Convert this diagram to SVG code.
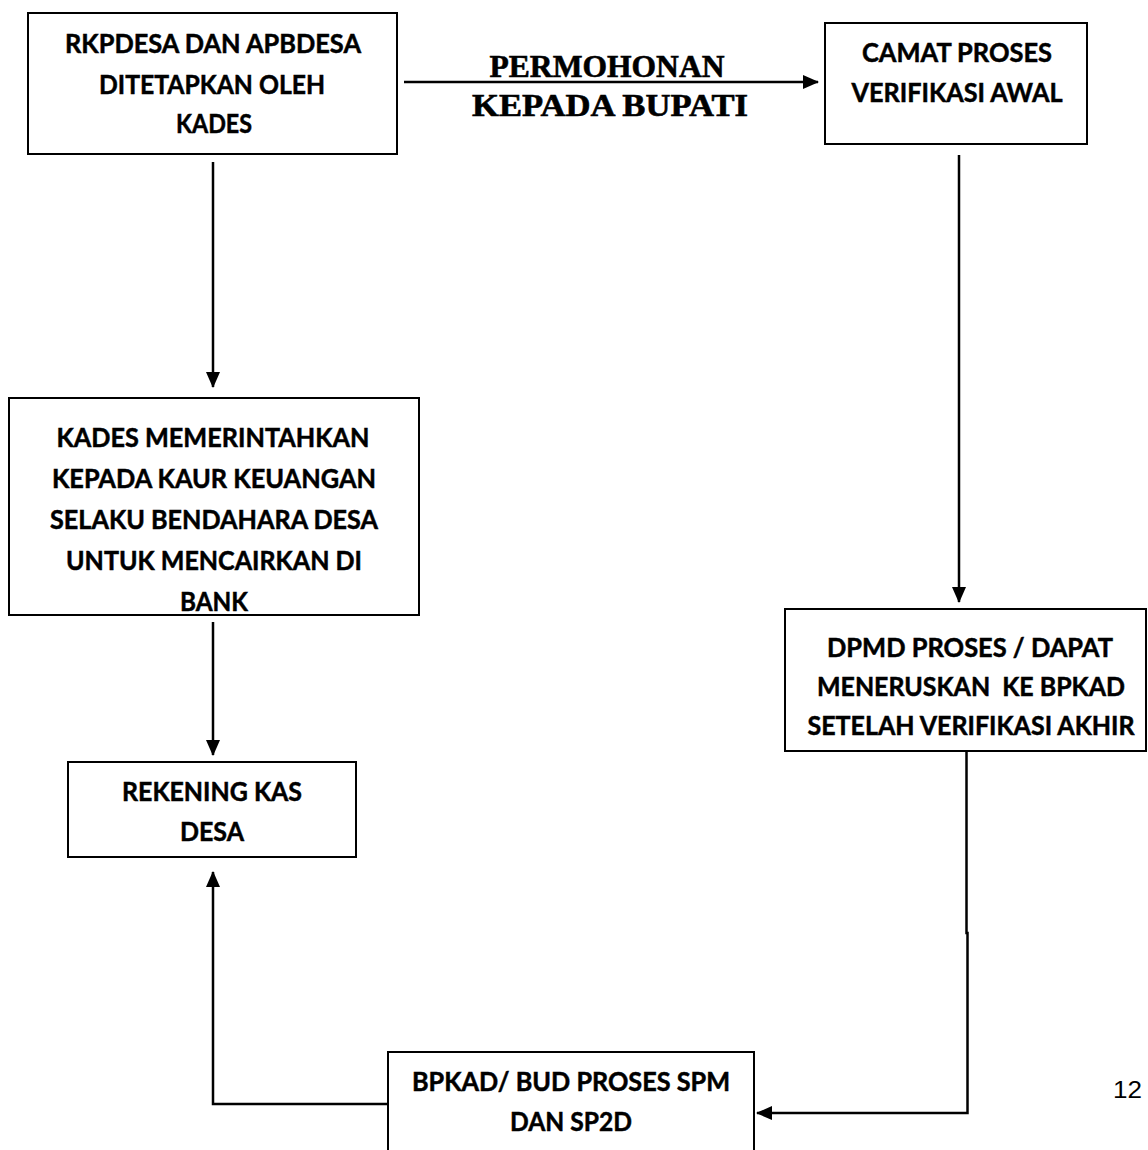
<svg xmlns="http://www.w3.org/2000/svg" width="1148" height="1150" viewBox="0 0 1148 1150">
  <style>
    .box { fill: #ffffff; stroke: #000000; stroke-width: 2; }
    .lbl { font-family: Lato, "Liberation Sans", Arial, sans-serif; font-weight: bold; font-size: 27px; fill: #000000; stroke: #000000; stroke-width: 0.5; text-anchor: middle; }
    .edge { fill: none; stroke: #000000; stroke-width: 2.5; }
    .elbl { font-family: "Liberation Serif", "Times New Roman", serif; font-weight: bold; font-size: 32px; fill: #000000; stroke: #000000; stroke-width: 0.6; text-anchor: middle; }
    .pg { font-family: "Liberation Sans", Arial, sans-serif; font-size: 24px; fill: #000000; }
  </style>
  <defs>
    <marker id="arrow" viewBox="0 0 16 16" refX="15" refY="8" markerWidth="16" markerHeight="16" markerUnits="userSpaceOnUse" orient="auto">
      <path d="M0,1 L16,8 L0,15 Z" fill="#000000"/>
    </marker>
  </defs>
  <rect width="1148" height="1150" fill="#ffffff"/>

  <g id="connectors">
    <line class="edge" x1="404" y1="82" x2="818" y2="82" marker-end="url(#arrow)"/>
    <line class="edge" x1="213" y1="162" x2="213" y2="387" marker-end="url(#arrow)"/>
    <line class="edge" x1="213" y1="622" x2="213" y2="755" marker-end="url(#arrow)"/>
    <line class="edge" x1="959" y1="155" x2="959" y2="602" marker-end="url(#arrow)"/>
    <polyline class="edge" points="966.5,751 966.5,933 967.5,933 967.5,1113 757,1113" marker-end="url(#arrow)"/>
    <polyline class="edge" points="388,1104 213,1104 213,872" marker-end="url(#arrow)"/>
    <text class="elbl" x="607" y="77" textLength="235" lengthAdjust="spacingAndGlyphs">PERMOHONAN</text>
    <text class="elbl" x="610" y="116" textLength="276" lengthAdjust="spacingAndGlyphs">KEPADA BUPATI</text>
  </g>

  <g id="node-rkpdesa">
    <rect class="box" x="28" y="13" width="369" height="141"/>
    <text class="lbl" x="213" y="53" textLength="296" lengthAdjust="spacingAndGlyphs">RKPDESA DAN APBDESA</text>
    <text class="lbl" x="212" y="94" textLength="226" lengthAdjust="spacingAndGlyphs">DITETAPKAN OLEH</text>
    <text class="lbl" x="214" y="133" textLength="76" lengthAdjust="spacingAndGlyphs">KADES</text>
  </g>

  <g id="node-camat">
    <rect class="box" x="825" y="23" width="262" height="121"/>
    <text class="lbl" x="957" y="62" textLength="190" lengthAdjust="spacingAndGlyphs">CAMAT PROSES</text>
    <text class="lbl" x="957" y="102" textLength="211" lengthAdjust="spacingAndGlyphs">VERIFIKASI AWAL</text>
  </g>

  <g id="node-kades">
    <rect class="box" x="9" y="398" width="410" height="217"/>
    <text class="lbl" x="213" y="447" textLength="313" lengthAdjust="spacingAndGlyphs">KADES MEMERINTAHKAN</text>
    <text class="lbl" x="214" y="488" textLength="324" lengthAdjust="spacingAndGlyphs">KEPADA KAUR KEUANGAN</text>
    <text class="lbl" x="214" y="529" textLength="328" lengthAdjust="spacingAndGlyphs">SELAKU BENDAHARA DESA</text>
    <text class="lbl" x="214" y="570" textLength="296" lengthAdjust="spacingAndGlyphs">UNTUK MENCAIRKAN DI</text>
    <text class="lbl" x="214" y="611" textLength="68" lengthAdjust="spacingAndGlyphs">BANK</text>
  </g>

  <g id="node-rekening">
    <rect class="box" x="68" y="762" width="288" height="95"/>
    <text class="lbl" x="212" y="801" textLength="180" lengthAdjust="spacingAndGlyphs">REKENING KAS</text>
    <text class="lbl" x="212" y="841" textLength="64" lengthAdjust="spacingAndGlyphs">DESA</text>
  </g>

  <g id="node-dpmd">
    <rect class="box" x="785" y="609" width="361" height="142"/>
    <text class="lbl" x="970" y="657" textLength="286" lengthAdjust="spacingAndGlyphs">DPMD PROSES / DAPAT</text>
    <text class="lbl" x="971" y="696" textLength="308" lengthAdjust="spacingAndGlyphs" xml:space="preserve">MENERUSKAN  KE BPKAD</text>
    <text class="lbl" x="971" y="735" textLength="327" lengthAdjust="spacingAndGlyphs">SETELAH VERIFIKASI AKHIR</text>
  </g>

  <g id="node-bpkad">
    <rect class="box" x="388" y="1052" width="366" height="110"/>
    <text class="lbl" x="571" y="1091" textLength="318" lengthAdjust="spacingAndGlyphs">BPKAD/ BUD PROSES SPM</text>
    <text class="lbl" x="571" y="1131" textLength="122" lengthAdjust="spacingAndGlyphs">DAN SP2D</text>
  </g>

  <text class="pg" x="1113" y="1098" textLength="29" lengthAdjust="spacingAndGlyphs">12</text>
</svg>
